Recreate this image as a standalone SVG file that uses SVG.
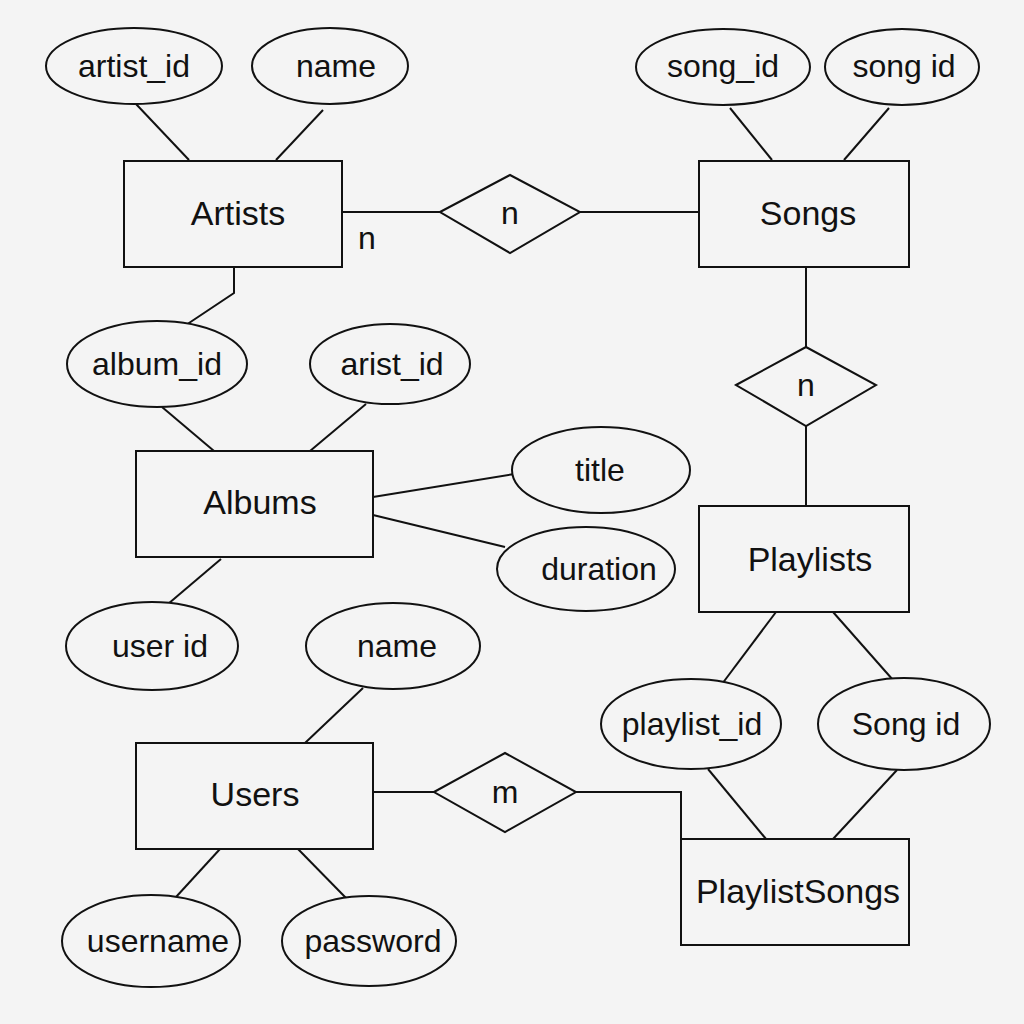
<svg xmlns="http://www.w3.org/2000/svg" width="1024" height="1024" viewBox="0 0 1024 1024">
<style>
.s{fill:none;stroke:#111;stroke-width:2}
.e{fill:#f4f4f4;stroke:#111;stroke-width:2}
.t{font-family:"Liberation Sans",Arial,sans-serif;font-size:32px;fill:#111;text-anchor:middle;dominant-baseline:central}
.b{font-size:34px}
</style>
<rect width="1024" height="1024" fill="#f4f4f4"/>
<g id="connectors">
<path class="s" d="M136,104 L189,160"/>
<path class="s" d="M323,110 L276,160"/>
<path class="s" d="M342,212 L440,212"/>
<path class="s" d="M580,212 L699,212"/>
<path class="s" d="M730,108 L772,160"/>
<path class="s" d="M889,108 L844,160"/>
<path class="s" d="M806,267 L806,347"/>
<path class="s" d="M806,426 L806,506"/>
<path class="s" d="M234,267 L234,293 L186,325"/>
<path class="s" d="M162,407 L214,451"/>
<path class="s" d="M366,404 L310,451"/>
<path class="s" d="M373,497 L514,474"/>
<path class="s" d="M373,515 L505,547"/>
<path class="s" d="M221,559 L168,604"/>
<path class="s" d="M363,688 L305,743"/>
<path class="s" d="M373,792 L434,792"/>
<path class="s" d="M576,792 L681,792 L681,839"/>
<path class="s" d="M220,849 L176,897"/>
<path class="s" d="M298,849 L347,899"/>
<path class="s" d="M776,612 L722,684"/>
<path class="s" d="M833,612 L893,680"/>
<path class="s" d="M708,769 L766,839"/>
<path class="s" d="M897,770 L833,839"/>
<text class="t" x="367" y="238">n</text>
</g>
<g id="artists"><rect class="e" x="124" y="161" width="218" height="106"/><text class="t b" x="238" y="213">Artists</text></g>
<g id="songs"><rect class="e" x="699" y="161" width="210" height="106"/><text class="t b" x="808" y="213">Songs</text></g>
<g id="albums"><rect class="e" x="136" y="451" width="237" height="106"/><text class="t b" x="260" y="502">Albums</text></g>
<g id="playlists"><rect class="e" x="699" y="506" width="210" height="106"/><text class="t b" x="810" y="559">Playlists</text></g>
<g id="users"><rect class="e" x="136" y="743" width="237" height="106"/><text class="t b" x="255" y="794">Users</text></g>
<g id="playlistsongs"><rect class="e" x="681" y="839" width="228" height="106"/><text class="t b" x="798" y="891">PlaylistSongs</text></g>
<g id="rel-artists-songs"><polygon class="e" points="440,212 510,175 580,212 510,253"/><text class="t" x="510" y="213">n</text></g>
<g id="rel-songs-playlists"><polygon class="e" points="736,385 806,347 876,385 806,426"/><text class="t" x="806" y="385">n</text></g>
<g id="rel-users-playlistsongs"><polygon class="e" points="434,792 505,753 576,792 505,832"/><text class="t" x="505" y="792">m</text></g>
<g id="attr-artist_id"><ellipse class="e" cx="134" cy="66" rx="88" ry="38"/><text class="t" x="134" y="66">artist_id</text></g>
<g id="attr-name1"><ellipse class="e" cx="330" cy="66" rx="78" ry="38"/><text class="t" x="336" y="66">name</text></g>
<g id="attr-song_id"><ellipse class="e" cx="723" cy="67" rx="87" ry="38"/><text class="t" x="723" y="66">song_id</text></g>
<g id="attr-song-id"><ellipse class="e" cx="902" cy="67" rx="77" ry="38"/><text class="t" x="904" y="66">song id</text></g>
<g id="attr-album_id"><ellipse class="e" cx="157" cy="364" rx="90" ry="43"/><text class="t" x="157" y="364">album_id</text></g>
<g id="attr-arist_id"><ellipse class="e" cx="390" cy="364" rx="80" ry="40"/><text class="t" x="392" y="364">arist_id</text></g>
<g id="attr-title"><ellipse class="e" cx="601" cy="470" rx="89" ry="43"/><text class="t" x="600" y="470">title</text></g>
<g id="attr-duration"><ellipse class="e" cx="586" cy="569" rx="89" ry="42"/><text class="t" x="599" y="569">duration</text></g>
<g id="attr-user-id"><ellipse class="e" cx="152" cy="646" rx="86" ry="44"/><text class="t" x="160" y="646">user id</text></g>
<g id="attr-name2"><ellipse class="e" cx="393" cy="646" rx="87" ry="43"/><text class="t" x="397" y="646">name</text></g>
<g id="attr-playlist_id"><ellipse class="e" cx="691" cy="724" rx="90" ry="45"/><text class="t" x="692" y="724">playlist_id</text></g>
<g id="attr-Song-id"><ellipse class="e" cx="904" cy="724" rx="86" ry="46"/><text class="t" x="906" y="724">Song id</text></g>
<g id="attr-username"><ellipse class="e" cx="151" cy="941" rx="89" ry="46"/><text class="t" x="158" y="941">username</text></g>
<g id="attr-password"><ellipse class="e" cx="369" cy="941" rx="87" ry="45"/><text class="t" x="373" y="941">password</text></g>
</svg>
